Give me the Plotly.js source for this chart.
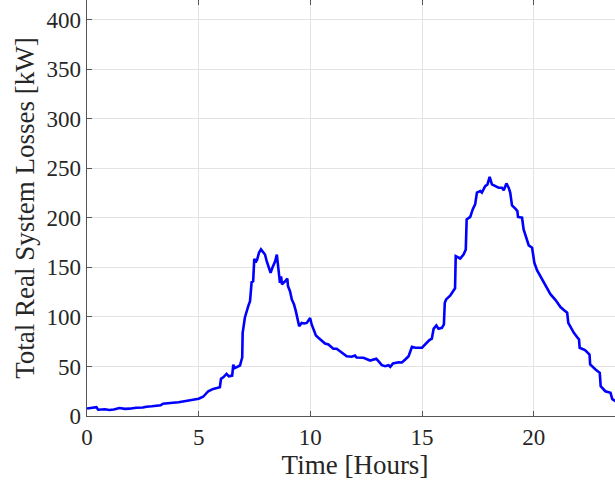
<!DOCTYPE html>
<html>
<head>
<meta charset="utf-8">
<script src="https://cdn.plot.ly/plotly-3.0.1.min.js"></script>
<style>
html,body{margin:0;padding:0;overflow:hidden;background:#fff;width:615px;height:487px;}
#chart{width:624px;height:487px;}
</style>
</head>
<body>
<div id="chart"></div>
<script>
const hours = [0,0.3,0.42,0.5,0.8,1.0,1.2,1.45,1.7,1.9,2.2,2.5,2.66,2.9,3.1,3.3,3.4,3.6,3.85,4.1,4.3,4.55,4.75,5.0,5.2,5.35,5.43,5.65,5.95,6.0,6.1,6.25,6.35,6.5,6.55,6.62,6.85,6.92,6.95,6.97,7.0,7.07,7.22,7.3,7.37,7.44,7.49,7.55,7.62,7.7,7.79,7.9,7.97,8.05,8.15,8.22,8.3,8.42,8.5,8.54,8.58,8.64,8.69,8.73,8.87,8.97,9.0,9.09,9.17,9.27,9.35,9.42,9.5,9.61,9.72,9.84,9.99,10.06,10.13,10.25,10.36,10.51,10.66,10.81,10.88,11.03,11.18,11.4,11.63,11.85,12.0,12.07,12.38,12.68,12.83,12.95,13.05,13.2,13.35,13.5,13.58,13.7,13.95,14.1,14.25,14.4,14.55,14.7,15.0,15.22,15.33,15.44,15.52,15.64,15.74,15.89,15.98,16.02,16.08,16.26,16.41,16.48,16.51,16.64,16.71,16.86,16.96,17.0,17.16,17.27,17.38,17.46,17.61,17.68,17.83,17.93,18.03,18.13,18.28,18.43,18.58,18.66,18.78,18.88,18.95,19.03,19.18,19.27,19.3,19.48,19.55,19.7,19.78,19.93,20.03,20.15,20.3,20.45,20.6,20.75,20.98,21.2,21.35,21.5,21.55,21.8,22.0,22.03,22.06,22.3,22.5,22.53,22.77,22.96,23.0,23.21,23.44,23.52,23.66,23.8];
const lossesKW = [7.6,8,8.9,6.3,6.8,6.0,6.5,8.0,7.2,7.4,8.4,8.6,9.4,9.8,10.4,10.8,12.4,12.6,13.4,13.9,14.7,15.2,16.4,17.4,19.4,23,25,27.4,29,37.5,39,42.5,40,40.8,51.8,48.4,51,56.8,59,84,90.7,99.5,111,116,135,136,158.8,155,158,164.8,168.2,165,163,156,148,144.6,149.7,156,163,155,146,134.5,141,133,136,138.6,131,126,117.7,112.6,105.9,97.5,90.7,94,93.4,94,99,92.4,87.4,81.3,79,75.6,73.2,72.2,70.5,67.9,67.9,64.5,60.4,59.8,61.1,59,58.8,56,57,57.8,55.4,51.3,50.3,51.3,49.7,53,54.3,54,57,60.4,69.9,68.9,68.9,74,76.6,78,88,91.4,88,89,92.4,114.3,117.7,121.5,126,129,161.4,159.8,159,163,168,198.5,201,208.6,213.6,225.5,227,225.5,232,233.8,241.5,233.8,232,230.5,230.5,228,234.8,230.5,225.5,212.6,209.3,206.9,201,200.2,188.4,178.3,172.2,169.9,154.7,147.3,141,136,130,123,117,110,107,104.2,94.1,84,78,77.3,68.9,66.5,62.1,52,47,43.6,30.1,25,23.4,17,15,14];
const xTicks = [0,5,10,15,20];
const yTicks = [0,50,100,150,200,250,300,350,400];
const xTitle = 'Time [Hours]';
const yTitle = 'Total Real System Losses [kW]';

const axisCol = '#555555';
const txtCol = '#262626';
const fam = '"Liberation Serif", "Times New Roman", serif';

const traces = [
  {x: hours, y: lossesKW, type: 'scatter', mode: 'lines', line: {color: '#0000ff', width: 2.6}, hoverinfo: 'skip', xaxis: 'x', yaxis: 'y'},
  {x: [], y: [], type: 'scatter', mode: 'lines', xaxis: 'x2', yaxis: 'y', showlegend: false}
];

const layout = {
  width: 624, height: 487,
  margin: {l: 87, r: 1, t: 0, b: 71},
  paper_bgcolor: '#ffffff', plot_bgcolor: '#ffffff',
  showlegend: false,
  font: {family: fam, color: txtCol, size: 23},
  xaxis: {
    range: [0, 24], tickvals: xTicks, ticktext: xTicks.map(String),
    showgrid: true, gridcolor: '#e3e3e3', gridwidth: 1,
    zeroline: false, showline: true, linecolor: axisCol, linewidth: 1.3,
    ticks: 'inside', ticklen: 5, tickcolor: axisCol, tickwidth: 1,
    tickfont: {family: fam, size: 23, color: txtCol},
    title: {text: xTitle, font: {family: fam, size: 27, color: txtCol}, standoff: 2}
  },
  xaxis2: {
    overlaying: 'x', matches: 'x', side: 'top', anchor: 'y',
    range: [0, 24], tickvals: xTicks, showticklabels: false,
    showgrid: false, zeroline: false, showline: false,
    ticks: 'inside', ticklen: 5, tickcolor: axisCol, tickwidth: 1
  },
  yaxis: {
    range: [0, 420], tickvals: yTicks, ticktext: yTicks.map(String),
    showgrid: true, gridcolor: '#e3e3e3', gridwidth: 1,
    zeroline: false, showline: true, linecolor: axisCol, linewidth: 1.3,
    ticks: 'inside', ticklen: 5, tickcolor: axisCol, tickwidth: 1,
    tickfont: {family: fam, size: 23, color: txtCol},
    title: {text: yTitle, font: {family: fam, size: 27, color: txtCol}, standoff: 4}
  }
};

Plotly.newPlot('chart', traces, layout, {displayModeBar: false, staticPlot: true});
</script>
</body>
</html>
